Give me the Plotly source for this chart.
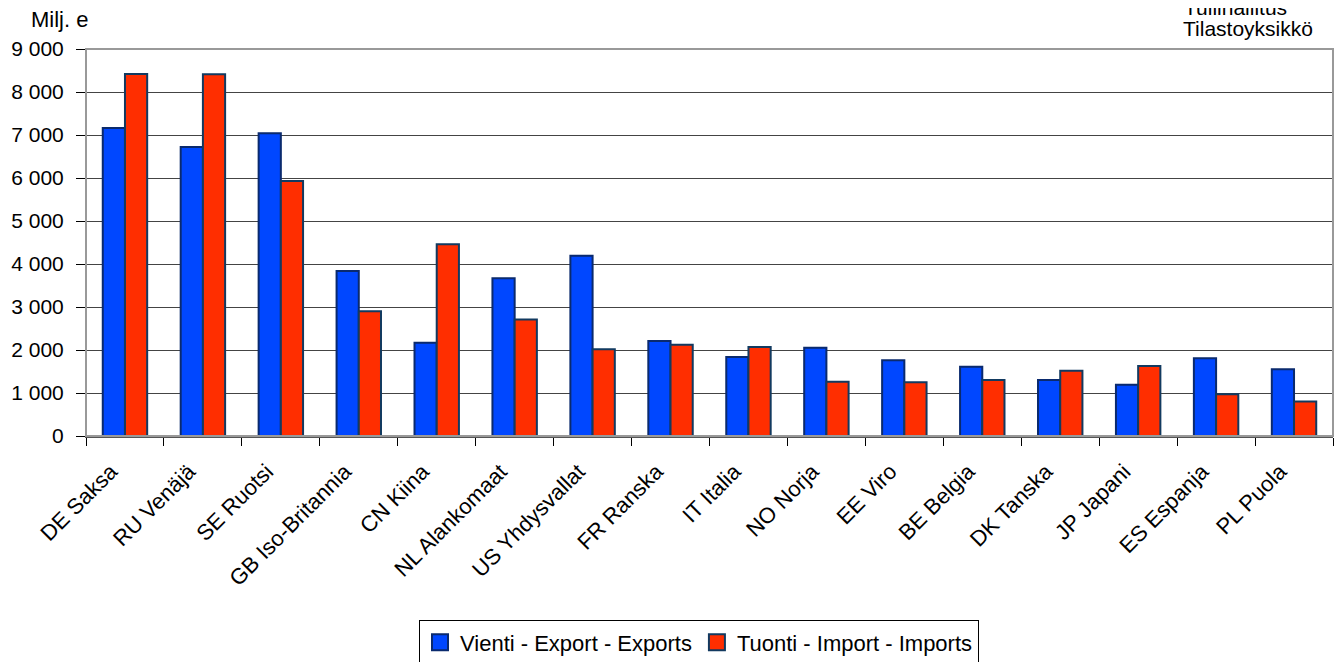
import plotly.graph_objects as go

categories = ["DE Saksa", "RU Venäjä", "SE Ruotsi", "GB Iso-Britannia", "CN Kiina",
              "NL Alankomaat", "US Yhdysvallat", "FR Ranska", "IT Italia", "NO Norja",
              "EE Viro", "BE Belgia", "DK Tanska", "JP Japani", "ES Espanja", "PL Puola"]
exports = [7160, 6720, 7040, 3840, 2170, 3670, 4190, 2210, 1840, 2050,
           1760, 1610, 1300, 1190, 1810, 1550]
imports = [8420, 8410, 5930, 2900, 4460, 2710, 2020, 2120, 2070, 1260,
           1250, 1300, 1520, 1630, 970, 800]
series_names = ["Vienti - Export - Exports", "Tuonti - Import - Imports"]
series_colors = ["#0047FF", "#FF2E00"]
outline_colors = ["#0A2A6E", "#123A60"]

FONT = "Liberation Sans, Arial, sans-serif"

fig = go.Figure()
for vals, name, col, oc in zip([exports, imports], series_names, series_colors, outline_colors):
    fig.add_trace(go.Bar(x=categories, y=vals, name=name, showlegend=False,
                         marker=dict(color=col, line=dict(color=oc, width=2))))
for name, col, oc in zip(series_names, series_colors, outline_colors):
    fig.add_trace(go.Scatter(x=[None], y=[None], mode="markers", name=name,
                             marker=dict(symbol="square", size=16, color=col,
                                         line=dict(color=oc, width=2))))

# page body has an 8px default margin, so the figure is sized/offset to compensate
fig.update_layout(
    width=1334, height=654,
    margin=dict(l=78, r=9, t=41, b=226, autoexpand=False),
    paper_bgcolor="white", plot_bgcolor="white",
    font=dict(family=FONT, size=21, color="black"),
    separators=", ",
    barmode="group", bargap=0.43, bargroupgap=0,
    showlegend=True,
    legend=dict(orientation="h", xref="container", x=0.518, xanchor="center",
                yref="container", y=0.03, yanchor="middle",
                bordercolor="black", borderwidth=1, bgcolor="white",
                font=dict(size=22), itemwidth=30, traceorder="normal",
                tracegroupgap=0),
    shapes=[dict(type="rect", xref="paper", yref="paper", x0=0, x1=1, y0=0, y1=1,
                 line=dict(color="#999999", width=2), layer="above")],
    annotations=[
        dict(text="Milj. e", xref="paper", yref="paper", x=-0.046, y=1.077,
             xanchor="left", yanchor="middle", showarrow=False, font=dict(size=22)),
        dict(text="Tullihallitus", xref="paper", yref="paper", x=0.879, y=1.108,
             xanchor="left", yanchor="middle", showarrow=False, font=dict(size=21)),
        dict(text="Tilastoyksikkö", xref="paper", yref="paper", x=0.878, y=1.054,
             xanchor="left", yanchor="middle", showarrow=False, font=dict(size=21)),
    ],
)
fig.update_xaxes(tickangle=-45, ticks="outside", tickson="boundaries", ticklen=8,
                 tickcolor="black", showline=True, linecolor="#555555", linewidth=2,
                 showgrid=False, tickfont=dict(size=22), automargin=False,
                 ticklabelshift=-14, ticklabelstandoff=12)
fig.update_yaxes(range=[0, 9000], dtick=1000, tickformat=",d", ticks="outside",
                 ticklen=9, tickcolor="black", showline=True, linecolor="black",
                 linewidth=1, showgrid=True, gridcolor="#444444", gridwidth=1,
                 zeroline=False, tickfont=dict(size=21), automargin=False,
                 ticklabelstandoff=8)

fig.write_html("out.html")
